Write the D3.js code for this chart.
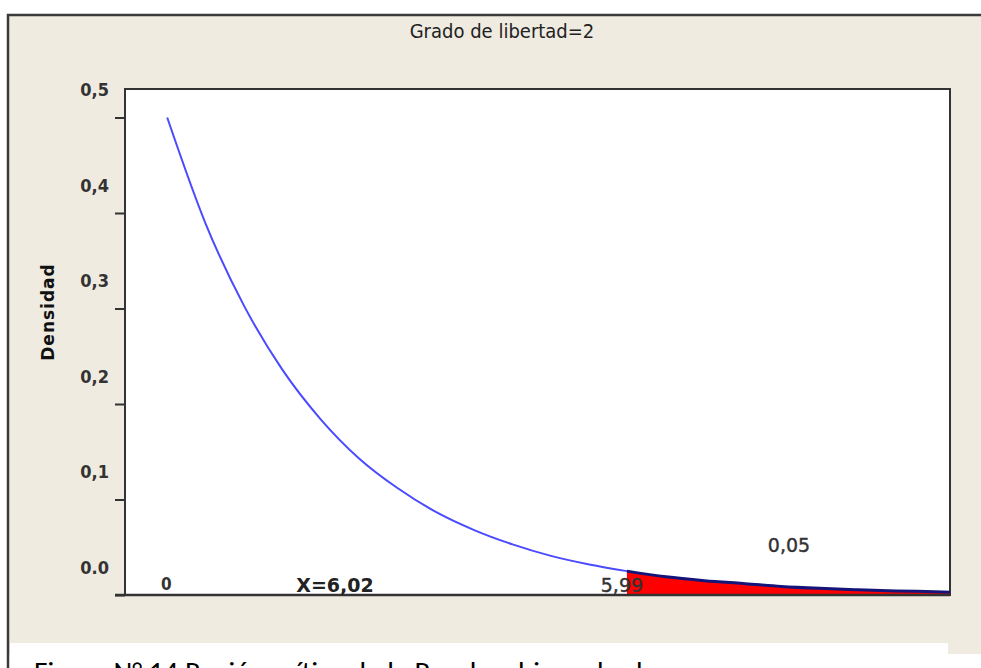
<!DOCTYPE html>
<html>
<head>
<meta charset="utf-8">
<script src="https://cdn.jsdelivr.net/npm/d3@7"></script>
<style>
  body { margin: 0; background: #fff; }
  svg { display: block; }
</style>
</head>
<body>
<div class="chart"></div>
<script>
// DATA
// ----------------------------
// curve: x value and density
const curveX = [0, 0.5, 1, 1.5, 2, 2.5, 3, 3.5, 4, 4.5, 5, 5.5, 5.99, 6.5, 7, 7.5, 8, 8.5, 9, 9.5, 10, 10.2]
const curveY = [0.5, 0.389, 0.303, 0.236, 0.184, 0.143, 0.112, 0.087, 0.068, 0.053, 0.041, 0.032, 0.025, 0.019, 0.015, 0.012, 0.009, 0.007, 0.0055, 0.0043, 0.0034, 0.003]
const yTicks = [0, 0.1, 0.2, 0.3, 0.4, 0.5]
const yTickLabels = ['0.0', '0,1', '0,2', '0,3', '0,4', '0,5']
const critical = 5.99
const statistic = 'X=6,02'
const alphaLabel = '0,05'
const title = 'Grado de libertad=2'
const caption = 'Figura N° 14 Región crítica de la Prueba chi cuadrado'

const data = curveX.map((x, i) => ({ x: x, y: curveY[i] }))

// SETUP
// ----------------------------
const fullWidth = 981
const fullHeight = 668
const plot = { left: 125, top: 89, right: 950, bottom: 595 }
const narrow = '"DejaVu Sans Condensed", "Liberation Sans Narrow", sans-serif'
const wide = '"DejaVu Sans", Verdana, sans-serif'

const svg = d3.select('.chart')
  .append('svg')
    .attr('width', fullWidth)
    .attr('height', fullHeight)

// beige panel with dark frame on left/top
svg.append('rect')
  .attr('x', 7).attr('y', 14)
  .attr('width', fullWidth).attr('height', 640)
  .style('fill', '#efebe1')
svg.append('path')
  .attr('d', `M8,${fullHeight} V15 H${fullWidth}`)
  .style('fill', 'none')
  .style('stroke', '#3a3a3a')
  .style('stroke-width', 2.5)

// caption strip (cut by the bottom edge, like the picture)
svg.append('rect')
  .attr('x', 10).attr('y', 643)
  .attr('width', 938).attr('height', 30)
  .style('fill', '#fff')
svg.append('text')
  .attr('x', 34).attr('y', 682)
  .attr('textLength', 624)
  .attr('lengthAdjust', 'spacingAndGlyphs')
  .style('font-family', 'Carlito, "Open Sans", sans-serif')
  .style('font-size', '28px')
  .style('fill', '#000')
  .text(caption)

svg.append('text')
  .attr('x', 502).attr('y', 38)
  .attr('text-anchor', 'middle')
  .style('font-family', narrow)
  .style('font-size', '20px')
  .style('fill', '#222')
  .text(title)

// plot background
svg.append('rect')
  .attr('x', plot.left).attr('y', plot.top)
  .attr('width', plot.right - plot.left).attr('height', plot.bottom - plot.top)
  .style('fill', '#fff')
  .style('stroke', '#333')
  .style('stroke-width', 2)

// SCALES
// ----------------------------
const xScale = d3.scaleLinear()
  .domain([-0.55, 10.2])
  .range([plot.left, plot.right])

const yScale = d3.scaleLinear()
  .domain([0, 0.5])
  .range([plot.bottom, 117.5])

// Y AXIS (labels sit above their tick marks, as in the picture)
// ----------------------------
const yAxis = d3.axisLeft(yScale)
  .tickValues(yTicks)
  .tickSize(10)
  .tickFormat((d, i) => yTickLabels[i])
const yg = svg.append('g')
  .attr('transform', `translate(${plot.left}, 0)`)
  .call(yAxis)
yg.select('.domain').remove()
yg.selectAll('line').style('stroke', '#333').style('stroke-width', 2)
yg.selectAll('text')
  .attr('x', -16)
  .attr('dy', '-1.2em')
  .style('font-family', narrow)
  .style('font-weight', 'bold')
  .style('font-size', '18px')
  .style('fill', '#333')

svg.append('text')
  .attr('transform', 'translate(54, 312) rotate(-90)')
  .attr('text-anchor', 'middle')
  .style('font-family', wide)
  .style('font-weight', 'bold')
  .style('font-size', '17px')
  .style('letter-spacing', '1px')
  .style('fill', '#111')
  .text('Densidad')

// CRITICAL REGION
// ----------------------------
const tail = data.filter(d => d.x >= critical)
const area = d3.area()
  .x(d => xScale(d.x))
  .y0(yScale(0))
  .y1(d => yScale(d.y))
  .curve(d3.curveMonotoneX)
svg.append('path')
  .datum(tail)
  .attr('d', area)
  .style('fill', '#ff0000')

// CURVE
// ----------------------------
const line = d3.line()
  .x(d => xScale(d.x))
  .y(d => yScale(d.y))
  .curve(d3.curveMonotoneX)
svg.append('path')
  .datum(data.filter(d => d.x <= critical))
  .attr('d', line)
  .style('fill', 'none')
  .style('stroke', '#4a4aff')
  .style('stroke-width', 2)
svg.append('path')
  .datum(tail)
  .attr('d', line)
  .style('fill', 'none')
  .style('stroke', '#14147a')
  .style('stroke-width', 3)

// x axis line (extends to the left like a tick)
svg.append('line')
  .attr('x1', plot.left - 10).attr('x2', plot.right)
  .attr('y1', yScale(0)).attr('y2', yScale(0))
  .style('stroke', '#333')
  .style('stroke-width', 2.5)

// ANNOTATIONS
// ----------------------------
svg.append('text')
  .attr('x', xScale(0) - 1).attr('y', yScale(0) - 5)
  .attr('text-anchor', 'middle')
  .style('font-family', narrow).style('font-weight', 'bold')
  .style('font-size', '17px').style('fill', '#333')
  .text('0')
svg.append('text')
  .attr('x', 335).attr('y', yScale(0) - 3)
  .attr('text-anchor', 'middle')
  .style('font-family', wide).style('font-weight', 'bold')
  .style('font-size', '19px').style('fill', '#222')
  .text(statistic)
svg.append('text')
  .attr('x', xScale(critical) - 5).attr('y', yScale(0) - 3)
  .attr('text-anchor', 'middle')
  .style('font-family', wide)
  .style('font-size', '19px').style('fill', '#333')
  .style('stroke', '#333').style('stroke-width', 0.4)
  .text(String(critical).replace('.', ','))
svg.append('text')
  .attr('x', 789).attr('y', 552)
  .attr('text-anchor', 'middle')
  .style('font-family', wide)
  .style('font-size', '19px').style('fill', '#333')
  .style('stroke', '#333').style('stroke-width', 0.4)
  .text(alphaLabel)
</script>
</body>
</html>
